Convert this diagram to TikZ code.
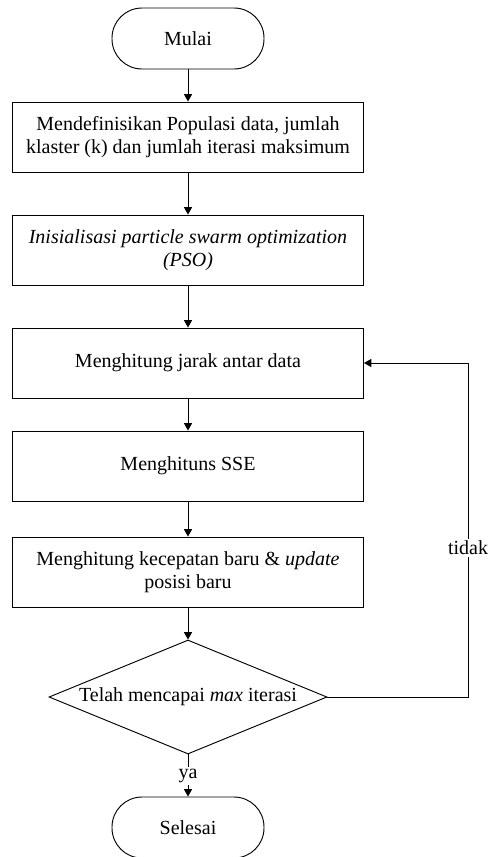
\documentclass[tikz,border=0pt]{standalone}
\usepackage{fontspec}
\setmainfont{Liberation Serif}
\newfontfamily\tnr{Liberation Serif}
\usetikzlibrary{shapes.geometric,arrows.meta}
\begin{document}
\begin{tikzpicture}[x=0.75pt,y=-0.75pt,
  every node/.style={font=\tnr\fontsize{15}{17.3}\selectfont},
  term/.style={draw,line width=0.7pt,rectangle,rounded corners=22.5pt,minimum width=114pt,minimum height=45.75pt,inner sep=0pt},
  proc/.style={draw,line width=0.7pt,rectangle,minimum width=263.25pt,minimum height=52.5pt,inner sep=0pt,align=center},
  dec/.style={draw,line width=0.7pt,diamond,aspect=2.44,minimum width=208.5pt,minimum height=85.5pt,inner sep=0pt},
  arr/.style={line width=0.7pt,-{Triangle[length=5.5pt,width=6pt]}},
  lbl/.style={fill=white,inner sep=1.5pt}]
\useasboundingbox (0,0) rectangle (487,857);
\node[term] (start) at (188,38.5) {Mulai};
\node[proc] (b1) at (188,137) {Mendefinisikan Populasi data, jumlah\\klaster (k) dan jumlah iterasi maksimum};
\node[proc] (b2) at (188,250) {\itshape Inisialisasi particle swarm optimization\\\itshape (PSO)};
\node[proc] (b3) at (188,363) {Menghitung jarak antar data};
\node[proc] (b4) at (188,466) {Menghituns SSE};
\node[proc] (b5) at (188,572) {Menghitung kecepatan baru \& \textit{update}\\posisi baru};
\node[dec] (d) at (188,697) {Telah mencapai \textit{max} iterasi};
\node[term] (end) at (188,827.5) {Selesai};
\coordinate (fb) at (468,363);
\draw[arr] (start) -- (b1);
\draw[arr] (b1) -- (b2);
\draw[arr] (b2) -- (b3);
\draw[arr] (b3) -- (b4);
\draw[arr] (b4) -- (b5);
\draw[arr] (b5) -- (d);
\draw[arr] (d) -- (end);
\draw[arr] (d.east) -| (fb) -- (b3.east);
\node[lbl] (ya) at (188,776) {ya};
\node[lbl] (tidak) at (468,548) {tidak};
\end{tikzpicture}
\end{document}
